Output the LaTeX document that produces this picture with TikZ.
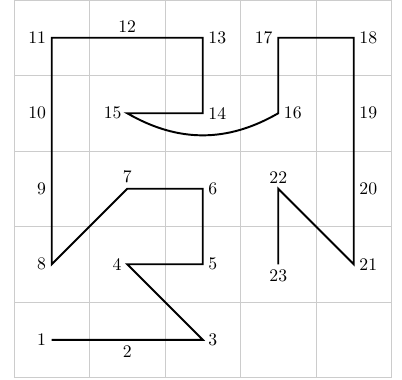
\documentclass[tikz,border=0pt]{standalone}
\begin{document}
\begin{tikzpicture}[x=1.5cm,y=1.5cm,
  gridline/.style={draw=gray!40,line width=0.5pt},
  pathline/.style={draw=black,line width=1.1pt,line join=miter},
  lbl/.style={inner sep=3pt,font=\normalsize}]
\useasboundingbox (-0.185,-0.026) rectangle (5.139,5.0);
\draw[gridline,step=1.5cm] (0,0) grid (5,5);
% points (col from left, row from top)
\coordinate (p1) at (0.5,0.5);
\coordinate (p2) at (1.5,0.5);
\coordinate (p3) at (2.5,0.5);
\coordinate (p4) at (1.5,1.5);
\coordinate (p5) at (2.5,1.5);
\coordinate (p6) at (2.5,2.5);
\coordinate (p7) at (1.5,2.5);
\coordinate (p8) at (0.5,1.5);
\coordinate (p9) at (0.5,2.5);
\coordinate (p10) at (0.5,3.5);
\coordinate (p11) at (0.5,4.5);
\coordinate (p12) at (1.5,4.5);
\coordinate (p13) at (2.5,4.5);
\coordinate (p14) at (2.5,3.5);
\coordinate (p15) at (1.5,3.5);
\coordinate (p16) at (3.5,3.5);
\coordinate (p17) at (3.5,4.5);
\coordinate (p18) at (4.5,4.5);
\coordinate (p19) at (4.5,3.5);
\coordinate (p20) at (4.5,2.5);
\coordinate (p21) at (4.5,1.5);
\coordinate (p22) at (3.5,2.5);
\coordinate (p23) at (3.5,1.5);
\draw[pathline] (p1) -- (p3) -- (p4) -- (p5) -- (p6) -- (p7) -- (p8) -- (p11) -- (p13) -- (p14) -- (p15)
  to[bend right=30] (p16) -- (p17) -- (p18) -- (p21) -- (p22) -- (p23);
\node[lbl,left] (l1) at (p1) {1};
\node[lbl,below] (l2) at (p2) {2};
\node[lbl,right] (l3) at (p3) {3};
\node[lbl,left] (l4) at (p4) {4};
\node[lbl,right] (l5) at (p5) {5};
\node[lbl,right] (l6) at (p6) {6};
\node[lbl,above] (l7) at (p7) {7};
\node[lbl,left] (l8) at (p8) {8};
\node[lbl,left] (l9) at (p9) {9};
\node[lbl,left] (l10) at (p10) {10};
\node[lbl,left] (l11) at (p11) {11};
\node[lbl,above] (l12) at (p12) {12};
\node[lbl,right] (l13) at (p13) {13};
\node[lbl,right] (l14) at (p14) {14};
\node[lbl,left] (l15) at (p15) {15};
\node[lbl,right] (l16) at (p16) {16};
\node[lbl,left] (l17) at (p17) {17};
\node[lbl,right] (l18) at (p18) {18};
\node[lbl,right] (l19) at (p19) {19};
\node[lbl,right] (l20) at (p20) {20};
\node[lbl,right] (l21) at (p21) {21};
\node[lbl,above] (l22) at (p22) {22};
\node[lbl,below] (l23) at (p23) {23};
\end{tikzpicture}
\end{document}
